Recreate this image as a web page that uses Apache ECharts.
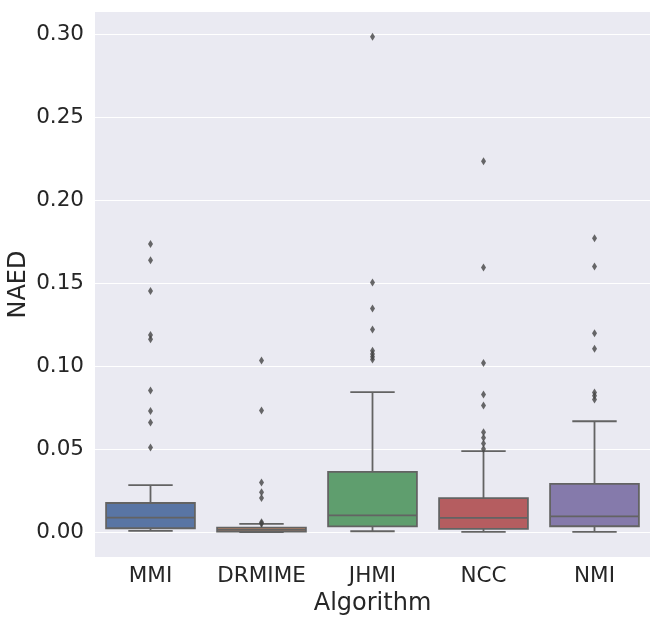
<!DOCTYPE html>
<html>
<head>
<meta charset="utf-8">
<script src="https://cdn.jsdelivr.net/npm/echarts@6/dist/echarts.min.js"></script>
<style>
    html, body { margin: 0; padding: 0; background: #ffffff; }
    #container { width: 665px; height: 621px; }
</style>
</head>
<body>
<div id="container"></div>
<script>
// categories and box statistics
var categories = ['MMI', 'DRMIME', 'JHMI', 'NCC', 'NMI'];
var whiskerLow = [0.0010, 0.0003, 0.0008, 0.0004, 0.0004];
var q1 = [0.0026, 0.0006, 0.0037, 0.0022, 0.0038];
var median = [0.0090, 0.0016, 0.0104, 0.0088, 0.0098];
var q3 = [0.0178, 0.0030, 0.0365, 0.0207, 0.0293];
var whiskerHigh = [0.0285, 0.0052, 0.0845, 0.0490, 0.0670];

// outliers per algorithm
var mmiOut = [0.1737, 0.1639, 0.1454, 0.1189, 0.1164, 0.0855, 0.0731, 0.0663, 0.0512];
var drmimeOut = [0.1036, 0.0735, 0.0301, 0.0243, 0.0208, 0.0062, 0.0055];
var jhmiOut = [0.2984, 0.1505, 0.1348, 0.1222, 0.1095, 0.1075, 0.1058, 0.1042];
var nccOut = [0.2235, 0.1596, 0.1020, 0.0831, 0.0765, 0.0604, 0.0570, 0.0536, 0.0503];
var nmiOut = [0.1771, 0.1602, 0.1199, 0.1106, 0.0843, 0.0823, 0.0801];

var yTicks = [0, 0.05, 0.10, 0.15, 0.20, 0.25, 0.30];

var boxColors = ['#5975a4', '#cc8963', '#5f9e6e', '#b55d60', '#857aab'];
var edgeColor = '#636363';
var textColor = '#262626';

var boxData = [];
for (var i = 0; i < categories.length; i++) {
    boxData.push([i, whiskerLow[i], q1[i], median[i], q3[i], whiskerHigh[i]]);
}

var outlierData = [];
[mmiOut, drmimeOut, jhmiOut, nccOut, nmiOut].forEach(function (list, idx) {
    list.forEach(function (v) {
        outlierData.push([categories[idx], v]);
    });
});

function renderBox(params, api) {
    var idx = api.value(0);
    var low = api.coord([idx, api.value(1)]);
    var p1 = api.coord([idx, api.value(2)]);
    var pm = api.coord([idx, api.value(3)]);
    var p3 = api.coord([idx, api.value(4)]);
    var high = api.coord([idx, api.value(5)]);
    var band = api.size([1, 0])[0];
    var half = band * 0.4, cap = band * 0.2;
    var x = low[0];
    var lineStyle = { stroke: edgeColor, lineWidth: 1.8 };
    return {
        type: 'group',
        children: [
            { type: 'line', shape: { x1: x, y1: p3[1], x2: x, y2: high[1] }, style: lineStyle },
            { type: 'line', shape: { x1: x, y1: low[1], x2: x, y2: p1[1] }, style: lineStyle },
            { type: 'line', shape: { x1: x - cap, y1: high[1], x2: x + cap, y2: high[1] }, style: lineStyle },
            { type: 'line', shape: { x1: x - cap, y1: low[1], x2: x + cap, y2: low[1] }, style: lineStyle },
            {
                type: 'rect',
                shape: { x: x - half, y: p3[1], width: half * 2, height: p1[1] - p3[1] },
                style: { fill: boxColors[idx], stroke: edgeColor, lineWidth: 1.8 }
            },
            { type: 'line', shape: { x1: x - half, y1: pm[1], x2: x + half, y2: pm[1] }, style: lineStyle }
        ]
    };
}

var chart = echarts.init(document.getElementById('container'));
var option = {
    animation: false,
    backgroundColor: '#ffffff',
    textStyle: { fontFamily: 'DejaVu Sans' },
    grid: {
        left: 95, right: 15, top: 12, bottom: 64,
        containLabel: false, outerBoundsMode: 'none',
        show: true, backgroundColor: '#eaeaf2', borderWidth: 0
    },
    xAxis: {
        type: 'category',
        data: categories,
        boundaryGap: true,
        axisLine: { show: false },
        axisTick: { show: false },
        splitLine: { show: false },
        axisLabel: { color: textColor, fontSize: 21.5, margin: 8, interval: 0, hideOverlap: false },
        name: 'Algorithm',
        nameLocation: 'middle',
        nameGap: 35,
        nameMoveOverlap: false,
        nameTextStyle: { color: textColor, fontSize: 24 }
    },
    yAxis: {
        type: 'value',
        min: -0.0147,
        max: 0.3133,
        axisLine: { show: false },
        axisTick: { show: false, customValues: yTicks },
        splitLine: { show: true, lineStyle: { color: '#ffffff', width: 1.2 } },
        axisLabel: {
            customValues: yTicks,
            color: textColor, fontSize: 21.5, margin: 11,
            formatter: function (v) { return v.toFixed(2); }
        },
        name: 'NAED',
        nameLocation: 'middle',
        nameGap: 64,
        nameMoveOverlap: false,
        nameTextStyle: { color: textColor, fontSize: 24 }
    },
    series: [
        {
            type: 'custom',
            renderItem: renderBox,
            encode: { x: 0, y: [1, 2, 3, 4, 5] },
            data: boxData,
            z: 2
        },
        {
            type: 'scatter',
            symbol: 'diamond',
            symbolSize: [5, 8],
            itemStyle: { color: '#444444' },
            data: outlierData,
            z: 3
        }
    ]
};
chart.setOption(option);
</script>
</body>
</html>
